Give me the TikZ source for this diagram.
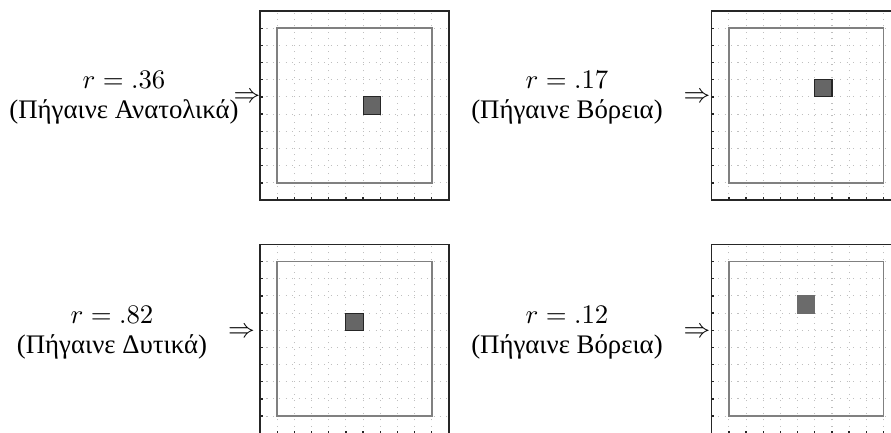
\documentclass[tikz,border=0pt]{standalone}
\usepackage{fontspec}
\newfontfamily\greekfont{Liberation Serif}
\usetikzlibrary{positioning}
\tikzset{
  lbl/.style={align=center, inner sep=1pt, font=\greekfont\fontsize{10}{11.2}\selectfont},
  imp/.style={inner sep=0pt},
  gridline/.style={gray!50, dotted, line width=0.4pt},
  frame/.style={black!85, line width=0.5pt},
  room/.style={black!50, line width=0.7pt},
  agent/.style={fill=black!60, draw=black!85, line width=0.4pt},
  agentflat/.style={fill=black!58, draw=black!58, line width=0.4pt}
}

\begin{document}
\begin{tikzpicture}[x=0.3734pt, y=0.3734pt]
\path[use as bounding box, clip] (0,0) rectangle (891,432);

% the four grid worlds: frame origin and agent cell
\foreach \ox/\oy/\mx/\my/\mk in {260/232/6/5/agent, 711.7/232/6/6/agent, 260/-1.3/5/6/agent, 711.7/-1.3/5/7/agentflat}{
  \begin{scope}[shift={(\ox,\oy)}, x=6.415pt, y=6.415pt]
    \draw[gridline, step={(1,1)}] (0,0) grid (11,11);
    \draw[room] (1,1) rectangle (10,10);
    \draw[\mk] (\mx,\my) rectangle ++(1,1);
    \foreach \t in {1,...,10} {
      \draw[frame] (0,\t) -- ++(0.15,0);
      \draw[frame] (\t,0) -- ++(0,0.15);
    }
    \draw[frame] (0,0) rectangle (11,11);
  \end{scope}
}

\node[lbl] (lab1) at (124,334) {$r = .36$\\(Πήγαινε Ανατολικά)};
\node[lbl] (lab2) at (567,334) {$r = .17$\\(Πήγαινε Βόρεια)};
\node[lbl] (lab3) at (112,99.5) {$r = .82$\\(Πήγαινε Δυτικά)};
\node[lbl] (lab4) at (567,99.5) {$r = .12$\\(Πήγαινε Βόρεια)};

\node[imp] (to1) at (247,334) {$\Rightarrow$};
\node[imp] (to2) at (697,334) {$\Rightarrow$};
\node[imp] (to3) at (241.5,99.3) {$\Rightarrow$};
\node[imp] (to4) at (697,99.3) {$\Rightarrow$};
\end{tikzpicture}
\end{document}
